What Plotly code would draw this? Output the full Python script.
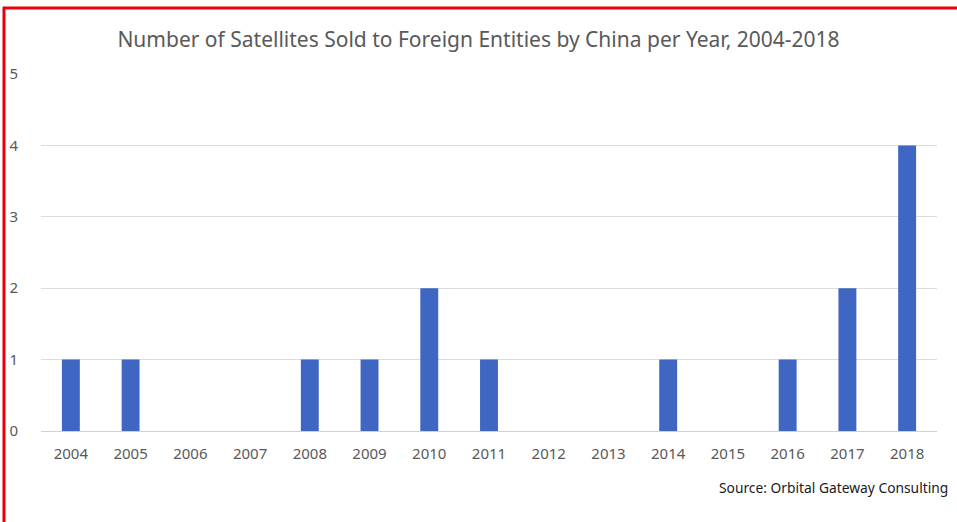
import plotly.graph_objects as go

years = ["2004", "2005", "2006", "2007", "2008", "2009", "2010", "2011",
         "2012", "2013", "2014", "2015", "2016", "2017", "2018"]
satellites_sold = [1, 1, 0, 0, 1, 1, 2, 1, 0, 0, 1, 0, 1, 2, 4]
y_ticks = [0, 1, 2, 3, 4, 5]

W, H = 957, 522
L, R, T, B = 41, 20, 74, 91
pw, ph = W - L - R, H - T - B

def px_x(x):
    return (x - L) / pw

def px_y(y):
    return (H - B - y) / ph

fig = go.Figure(go.Bar(
    x=years, y=satellites_sold,
    marker=dict(color="#3f66c2", line=dict(width=0)),
))

fig.update_layout(
    width=W, height=H,
    margin=dict(l=L, r=R, t=T, b=B, autoexpand=False),
    paper_bgcolor="white", plot_bgcolor="white",
    bargap=0.7,
    showlegend=False,
    font=dict(family="Noto Sans", color="#595959"),
    title=dict(
        text="Number of Satellites Sold to Foreign Entities by China per Year, 2004-2018",
        x=0.5, xanchor="center", y=1 - 40 / H, yanchor="middle",
        font=dict(size=21, color="#595959", family="Noto Sans"),
    ),
    xaxis=dict(
        type="category", showgrid=False, zeroline=False, showline=False,
        ticks="", tickfont=dict(size=15, color="#595959"),
        ticklabelstandoff=12, automargin=False,
    ),
    yaxis=dict(
        range=[0, 5], tickvals=y_ticks, showgrid=True, gridcolor="#dcdcdc",
        gridwidth=1, zeroline=True, zerolinecolor="#d0d0d0", zerolinewidth=1,
        showline=False, ticks="", tickfont=dict(size=15, color="#595959"),
        ticklabelstandoff=22, automargin=False,
    ),
    annotations=[dict(
        text="Source: Orbital Gateway Consulting",
        xref="paper", yref="paper", x=px_x(717), y=px_y(488),
        xanchor="left", yanchor="middle", showarrow=False,
        font=dict(size=13.8, color="#1a1a1a", family="Noto Sans"),
    )],
    shapes=[
        dict(type="line", xref="paper", yref="paper",
             x0=px_x(3), x1=px_x(W + 5), y0=px_y(8), y1=px_y(8),
             line=dict(color="#e8000b", width=3)),
        dict(type="line", xref="paper", yref="paper",
             x0=px_x(4), x1=px_x(4), y0=px_y(7), y1=px_y(H + 5),
             line=dict(color="#e8000b", width=3)),
    ],
)

fig.write_html("out.html",
               config={"displayModeBar": False},
               post_script="document.body.style.margin='0';document.body.style.overflow='hidden';")
